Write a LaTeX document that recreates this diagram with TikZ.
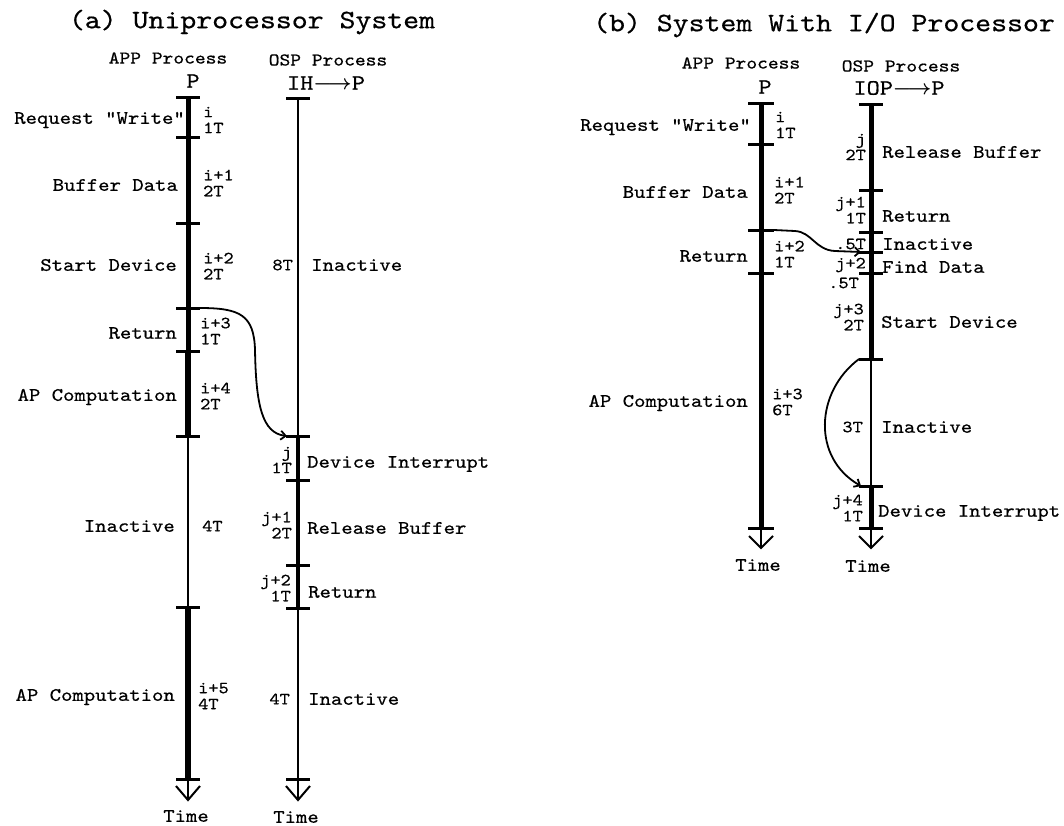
\documentclass[tikz,border=0pt]{standalone}
\usepackage{amsmath}
\usepackage{fontspec}
\newfontfamily\cour{lmmono10-regular}[Extension=.otf, FakeStretch=1.14, FakeBold=0.6]
\usetikzlibrary{arrows.meta}
\newcommand\mytick[2][12]{\draw[tickmark] ([xshift=-#1pt]#2) -- ([xshift=#1pt]#2);}
\begin{document}
\begin{tikzpicture}[x=1pt,y=-1pt,
 lbl/.style={font=\cour\fontsize{19}{19}\selectfont, inner sep=0pt},
 num/.style={font=\cour\fontsize{17}{16}\selectfont, inner sep=0pt, align=left},
 numr/.style={num, align=right},
 ttl/.style={font=\cour\fontsize{26.6}{28}\selectfont, inner sep=0pt},
 hdr/.style={font=\cour\fontsize{18}{18}\selectfont, inner sep=0pt},
 big/.style={font=\cour\fontsize{22}{22}\selectfont, inner sep=0pt},
 heavy/.style={line width=5pt},
 heavier/.style={line width=6pt},
 medium/.style={line width=4.5pt},
 thin/.style={line width=1.8pt},
 tickmark/.style={line width=3pt},
 timearrow/.style={line width=2pt},
 flow/.style={line width=1.8pt, -{Straight Barb[length=5pt,width=9pt]}},
]
\useasboundingbox (0,0) rectangle (1064,825);

% ================= Panel (a) =================
\node[ttl] (ta) at (252,22) {(a) Uniprocessor System};
\node[hdr] (appa) at (168,58) {APP Process};
\node[hdr] (ospa) at (328,60) {OSP Process};
\node[big] (pa) at (193,81) {P};
\node[big] (iha) at (326,83) {IH$\boldsymbol{\longrightarrow}$P};

% P line coordinates
\coordinate (aP0) at (188,97);
\coordinate (aP1) at (188,137);
\coordinate (aP2) at (188,223);
\coordinate (aP3) at (188,308);
\coordinate (aP4) at (188,351);
\coordinate (aP5) at (188,436);
\coordinate (aP6) at (188,607);
\coordinate (aP7) at (188,779);
\coordinate (aPt) at (188,800);

\draw[heavy] (aP0) -- (aP4);
\draw[heavier] (aP4) -- (aP5);
\draw[thin] (aP5) -- (aP6);
\draw[heavier] (aP6) -- (aP7);
\draw[timearrow] (aP7) -- (aPt);
\draw[timearrow] (176,786) -- (aPt) -- (200,786);
\foreach \c in {aP0,aP1,aP2,aP3,aP4,aP5,aP6,aP7} {\mytick{\c}}

% OSP line coordinates
\coordinate (aO0) at (298,98);
\coordinate (aO1) at (298,436);
\coordinate (aO2) at (298,480);
\coordinate (aO3) at (298,565);
\coordinate (aO4) at (298,608);
\coordinate (aO5) at (298,779);
\coordinate (aOt) at (298,800);

\draw[thin] (aO0) -- (aO1);
\draw[medium] (aO1) -- (aO4);
\draw[thin] (aO4) -- (aO5);
\draw[timearrow] (aO5) -- (aOt);
\draw[timearrow] (286,786) -- (aOt) -- (310,786);
\foreach \c in {aO0,aO1,aO2,aO3,aO4,aO5} {\mytick{\c}}

% flow curve (a)
\draw[flow] ([xshift=12pt]aP3) .. controls (240,308) and (254,315) .. (255,350)
  .. controls (256,405) and (262,433) .. ([xshift=-11pt]aO1);

% labels (a) left
\node[lbl, anchor=east] (a1) at (185,120) {Request "Write"};
\node[lbl, anchor=east] (a2) at (178,185) {Buffer Data};
\node[lbl, anchor=east] (a3) at (177,265) {Start Device};
\node[lbl, anchor=east] (a4) at (177,333) {Return};
\node[lbl, anchor=east] (a5) at (177,397) {AP Computation};
\node[lbl, anchor=east] (a6) at (175,526) {Inactive};
\node[lbl, anchor=east] (a7) at (175,697) {AP Computation};
% numbers (a) P
\node[num, anchor=west] (an1) at (203,120) {i\\1T};
\node[num, anchor=west] (an2) at (203,183) {i+1\\2T};
\node[num, anchor=west] (an3) at (203,266) {i+2\\2T};
\node[num, anchor=west] (an4) at (200,331) {i+3\\1T};
\node[num, anchor=west] (an5) at (200,396) {i+4\\2T};
\node[num, anchor=west] (an6) at (202,526) {4T};
\node[num, anchor=west] (an7) at (198,696) {i+5\\4T};
% OSP (a)
\node[num, anchor=east] (ao1) at (293,265) {8T};
\node[lbl, anchor=west] (aq1) at (311,265) {Inactive};
\node[numr, anchor=east] (ao2) at (292,460) {j\\1T};
\node[lbl, anchor=west] (aq2) at (307,464) {Device Interrupt};
\node[numr, anchor=east] (ao3) at (292,525) {j+1\\2T};
\node[lbl, anchor=west] (aq3) at (307,528) {Release Buffer};
\node[numr, anchor=east] (ao4) at (291,588) {j+2\\1T};
\node[lbl, anchor=west] (aq4) at (308,592) {Return};
\node[num, anchor=east] (ao5) at (290,699) {4T};
\node[lbl, anchor=west] (aq5) at (308,699) {Inactive};
\node[lbl] (atime1) at (186,816) {Time};
\node[lbl] (atime2) at (296,817) {Time};

% ================= Panel (b) =================
\node[ttl] (tb) at (824,25) {(b) System With I/O Processor};
\node[hdr] (appb) at (741,63) {APP Process};
\node[hdr] (ospb) at (901,66) {OSP Process};
\node[big] (pb) at (765,87) {P};
\node[big] (iopb) at (899,88) {IOP$\boldsymbol{\longrightarrow}$P};

\coordinate (bP0) at (761,103);
\coordinate (bP1) at (761,144);
\coordinate (bP2) at (761,230);
\coordinate (bP3) at (761,273);
\coordinate (bP4) at (761,528);
\coordinate (bPt) at (761,548);
\draw[heavy] (bP0) -- (bP4);
\draw[timearrow] (bP4) -- (bPt);
\draw[timearrow] (749,536) -- (bPt) -- (773,536);
\foreach \c in {bP0,bP1,bP2,bP3,bP4} {\mytick[13]{\c}}

\coordinate (bO0) at (871,104);
\coordinate (bO1) at (871,190);
\coordinate (bO2) at (871,232);
\coordinate (bO3) at (871,252);
\coordinate (bO4) at (871,273);
\coordinate (bO5) at (871,359);
\coordinate (bO6) at (871,486);
\coordinate (bO7) at (871,528);
\coordinate (bOt) at (871,548);
\draw[heavy] (bO0) -- (bO5);
\draw[thin] (bO5) -- (bO6);
\draw[heavy] (bO6) -- (bO7);
\draw[timearrow] (bO7) -- (bOt);
\draw[timearrow] (859,536) -- (bOt) -- (883,536);
\foreach \c in {bO0,bO1,bO2,bO3,bO4,bO5,bO6,bO7} {\mytick[12]{\c}}

% flow curves (b)
\draw[flow] ([xshift=13pt]bP2) -- (795,231) .. controls (812,232) and (815,250) .. (835,251) -- ([xshift=-10pt]bO3);
\draw[flow] ([xshift=-12pt]bO5) .. controls (815,392) and (812,458) .. ([xshift=-10pt]bO6);

% labels (b)
\node[lbl, anchor=east] (b1) at (751,127) {Request "Write"};
\node[lbl, anchor=east] (b2) at (748,192) {Buffer Data};
\node[lbl, anchor=east] (b3) at (748,256) {Return};
\node[lbl, anchor=east] (b4) at (748,403) {AP Computation};
\node[num, anchor=west] (bn1) at (775,125) {i\\1T};
\node[num, anchor=west] (bn2) at (774,190) {i+1\\2T};
\node[num, anchor=west] (bn3) at (774,254) {i+2\\1T};
\node[num, anchor=west] (bn4) at (772,402) {i+3\\6T};

\node[numr, anchor=east] (bo1) at (866,147) {j\\2T};
\node[lbl, anchor=west] (bq1) at (882,152) {Release Buffer};
\node[numr, anchor=east] (bo2) at (866,210) {j+1\\1T};
\node[lbl, anchor=west] (bq2) at (882,216) {Return};
\node[num, anchor=east] (bo3) at (866,244) {.5T};
\node[lbl, anchor=west] (bq3) at (882,244) {Inactive};
\node[num, anchor=east] (bo4) at (866,265) {j+2};
\node[lbl, anchor=west] (bq4) at (882,267) {Find Data};
\node[num, anchor=east] (bo5) at (859,283) {.5T};
\node[numr, anchor=east] (bo6) at (864,317) {j+3\\2T};
\node[lbl, anchor=west] (bq6) at (881,322) {Start Device};
\node[num, anchor=east] (bo7) at (863,427) {3T};
\node[lbl, anchor=west] (bq7) at (881,427) {Inactive};
\node[numr, anchor=east] (bo8) at (863,508) {j+4\\1T};
\node[lbl, anchor=west] (bq8) at (878,513) {Device Interrupt};
\node[lbl] (btime1) at (758,565) {Time};
\node[lbl] (btime2) at (868,566) {Time};
\end{tikzpicture}
\end{document}
